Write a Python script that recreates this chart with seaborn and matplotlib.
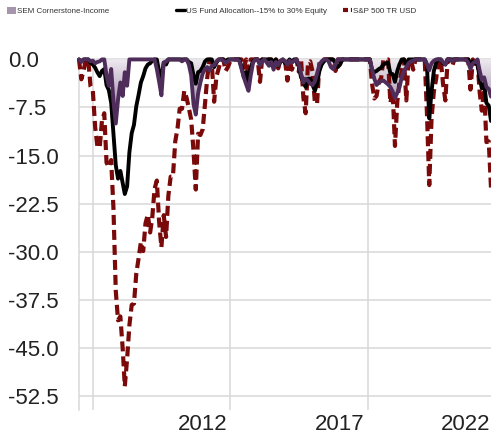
import numpy as np
import pandas as pd
import matplotlib
matplotlib.use("Agg")
import matplotlib.pyplot as plt
from matplotlib.colors import LinearSegmentedColormap
from matplotlib.patches import PathPatch, Patch
from matplotlib.lines import Line2D
from matplotlib.transforms import ScaledTranslation
import seaborn as sns

# monthly drawdown (%), Jul 2007 .. Jul 2022
dates = pd.date_range("2007-07-01", "2022-07-01", freq="MS")

sem = (
    [0, -0.4, 0, 0, 0, -0.3]                                                   # 2007
    + [-0.2, -0.6, -0.4, -0.3, 0, 0, -2.5, -4.1, -1.5, -6.5, -10.0, -6.3]      # 2008
    + [-3.6, -5.7, -2.0, -4.1, 0, 0, 0, 0, 0, 0, 0, 0]                         # 2009
    + [0, 0, 0, 0, -1.5, -3.5, -5.6, -0.5, -0.3, 0, 0, 0]                      # 2010
    + [0, 0, 0, -0.3, 0, 0, -0.8, -2.5, -7.0, -8.6, -5.3, -3.6]                # 2011
    + [-2.2, -1.5, -1.2, -1.7, -1.0, -0.9, -0.3, 0, 0, -0.2, -0.5, -0.3]       # 2012
    + [0, 0, 0, 0, -0.2, -1.5, -2.8, -3.9, -4.9, -2.5, -0.5, 0]                # 2013
    + [0, -0.9, -0.3, 0, -0.5, -1.0, -0.4, -1.6, -0.4, -0.9, -0.2, 0]          # 2014
    + [-0.3, -0.8, -0.2, -0.5, -0.2, 0, -0.8, -2.2, -3.6, -3.0, -3.3, -3.8]    # 2015
    + [-4.0, -3.4, -2.2, -0.8, -0.3, 0, 0, -0.3, -1.2, -1.5, -0.8, 0]          # 2016
    + [0, 0, 0, 0, 0, 0, 0, 0, 0, 0, 0, 0]                                     # 2017
    + [0, 0, -1.5, -3.0, -4.0, -3.6, -3.4, -3.3, -3.6, -3.9, -4.3, -5.0]       # 2018
    + [-6.0, -5.2, -4.4, -2.8, -1.8, -1.2, -0.6, -0.3, -0.2, 0, 0, 0]          # 2019
    + [0, 0, -0.8, -1.7, -0.6, -0.2, 0, 0, 0, -0.4, -0.8, 0]                   # 2020
    + [0, -0.3, 0, 0, 0, 0, 0, 0, -0.5, -1.5, -0.6, -0.4]                      # 2021
    + [0, -1.8, -3.2, -2.8, -4.3, -4.6, -5.8]                                  # 2022
)

us_fund = (
    [0, -0.3, 0, 0, 0, -0.5]
    + [-0.8, -1.3, -2.0, -2.6, -1.8, -1.5, -4.0, -4.8, -6.8, -11.5, -16.5, -18.6]
    + [-17.4, -19.3, -21.0, -19.8, -14.5, -11.5, -10.2, -7.3, -5.5, -3.6, -2.6, -1.4]
    + [-0.8, -0.6, -0.2, 0, 0, -2.0, -2.8, -0.5, -0.8, 0, 0, 0]
    + [0, 0, 0, 0, 0, 0, -0.4, -0.6, -2.5, -3.8, -2.0, -1.8]
    + [-1.2, -0.3, 0, 0, 0, -1.2, -0.5, 0, 0, 0, -0.3, 0]
    + [0, 0, 0, 0, 0, -1.2, -2.8, -2.0, -3.5, -1.2, -0.3, 0]
    + [0, -0.8, 0, 0, 0, 0, 0, -0.4, 0, -1.0, -0.3, 0]
    + [-0.6, -0.5, 0, -0.4, 0, 0, -1.0, -2.8, -3.5, -4.3, -3.0, -3.0]
    + [-4.0, -4.9, -3.8, -1.8, -0.8, -0.3, 0, 0, 0, 0, -0.6, -1.2]
    + [-0.8, 0, 0, 0, 0, 0, 0, 0, 0, 0, 0, 0]
    + [0, 0, -1.6, -2.0, -1.8, -1.5, -1.3, -0.8, -0.6, -0.5, -2.2, -2.3]
    + [-3.5, -1.8, -0.8, 0, 0, -0.8, 0, 0, 0, 0, 0, 0]
    + [0, 0, -0.8, -9.2, -5.0, -1.8, -0.5, 0, 0, -0.6, -0.8, 0]
    + [0, 0, 0, 0, 0, 0, 0, 0, 0, -1.0, -0.3, -0.6]
    + [-0.5, -3.0, -4.5, -3.8, -6.8, -7.2, -9.6]
)

sp500 = (
    [0, -3.1, -1.7, 0, 0, -4.2]
    + [-4.9, -10.6, -13.5, -13.8, -9.6, -8.4, -16.1, -16.8, -15.7, -23.2, -36.1, -40.7]
    + [-40.1, -45.1, -51.0, -46.7, -41.5, -38.3, -38.1, -33.4, -31.0, -28.5, -29.9, -25.6]
    + [-24.2, -27.0, -24.7, -20.2, -18.9, -25.4, -29.3, -24.3, -27.7, -21.3, -18.3, -18.3]
    + [-12.8, -10.7, -7.7, -7.7, -4.9, -6.0, -7.6, -9.4, -14.3, -20.3, -11.6, -11.8]
    + [-10.9, -6.9, -2.9, 0, -0.6, -6.6, -2.7, -1.4, 0, 0, -1.8, -1.2]
    + [-0.3, 0, 0, 0, 0, 0, -1.3, 0, -2.9, 0, 0, 0]
    + [0, -3.5, 0, 0, 0, 0, 0, -1.4, 0, -1.4, 0, 0]
    + [-0.3, -3.3, 0, -1.6, -0.6, 0, -1.9, 0, -6.0, -8.4, -0.6, -0.3]
    + [-1.9, -6.8, -6.9, -0.6, -0.2, 0, 0, 0, 0, 0, -1.8, 0]
    + [0, 0, 0, 0, 0, 0, 0, 0, 0, 0, 0, 0]
    + [0, 0, -3.7, -6.1, -5.7, -3.5, -2.9, 0, 0, 0, -6.8, -4.9]
    + [-13.5, -6.6, -3.6, -1.8, 0, -6.4, 0, 0, -1.6, 0, 0, 0]
    + [0, -0.1, -8.3, -19.6, -9.3, -5.0, -3.1, 0, 0, -3.8, -6.4, 0]
    + [0, -1.0, 0, 0, 0, 0, 0, 0, 0, -4.7, 0, -0.7]
    + [0, -5.2, -8.0, -4.6, -12.9, -12.8, -20.0]
)

series_names = ["SEM Cornerstone-Income", "US Fund Allocation--15% to 30% Equity", "S&P 500 TR USD"]
label_years = ["2012", "2017", "2022"]
grid_years = ["2008", "2013", "2018"]
y_ticks = [0.0, -7.5, -15.0, -22.5, -30.0, -37.5, -45.0, -52.5]

df = pd.DataFrame({"date": dates, "sem": sem, "fund": us_fund, "sp": sp500})

sns.set_theme(style="white")
plt.rcParams["font.family"] = ["Liberation Sans", "DejaVu Sans"]

fig = plt.figure(figsize=(4.91, 4.38), dpi=100)
ax = fig.add_axes([79 / 491, 28 / 438, 412 / 491, 352.5 / 438])

purple = "#4F2D5B"
red = "#7A0A0A"

sns.lineplot(data=df, x="date", y="sp", ax=ax, color=red, lw=3.0,
             linestyle=(0, (2.4, 1.2)), estimator=None, zorder=3, clip_on=False)
sns.lineplot(data=df, x="date", y="fund", ax=ax, color="black", lw=2.8,
             estimator=None, zorder=4, clip_on=False)
sns.lineplot(data=df, x="date", y="sem", ax=ax, color=purple, lw=2.8,
             estimator=None, zorder=5, clip_on=False)

# gradient fill under SEM
poly = ax.fill_between(df["date"], df["sem"], 0, facecolor="none", edgecolor="none")
xlo, xhi = ax.get_xlim()
cmap = LinearSegmentedColormap.from_list("sem", ["#EFEAF1", "#B7A8BD", "#5B3E66"])
img = ax.imshow(np.linspace(0, 1, 256).reshape(-1, 1), cmap=cmap, aspect="auto",
                extent=[xlo, xhi, -11, 0], origin="upper", zorder=2)
clip = PathPatch(poly.get_paths()[0], transform=ax.transData, facecolor="none", edgecolor="none")
ax.add_patch(clip)
img.set_clip_path(clip)

ax.set_xlim(dates[0], dates[-1])
ax.set_ylim(-54.7, 0.3)
ax.set_yticks(y_ticks)
ax.set_yticklabels([f"{v:.1f}" for v in y_ticks])
ax.set_xticks(pd.to_datetime([y + "-01-01" for y in label_years]))
ax.set_xticklabels(label_years)
ax.set_xticks(pd.to_datetime([y + "-01-01" for y in grid_years]), minor=True)
ax.set_xlabel("")
ax.set_ylabel("")

ax.set_axisbelow(True)
ax.grid(axis="y", which="major", color="#D9D9D9", lw=1.1)
ax.grid(axis="x", which="minor", color="#D9D9D9", lw=1.1)
ax.grid(axis="x", which="major", visible=False)
ax.tick_params(axis="both", which="both", length=0, labelsize=16, labelcolor="#222222")
ax.tick_params(axis="y", pad=51)
ax.tick_params(axis="x", pad=3)
for t in ax.get_yticklabels():
    t.set_ha("left")

# last year label is pushed inside the right edge, like the original
last = ax.get_xticklabels()[-1]
last.set_ha("right")
last.set_transform(last.get_transform() + ScaledTranslation(0.13, 0, fig.dpi_scale_trans))

for s in ["top", "right", "bottom"]:
    ax.spines[s].set_visible(False)
ax.spines["left"].set_color("#D9D9D9")
ax.spines["left"].set_linewidth(1.1)

# legend, one entry per column
handles = [
    Patch(facecolor="#A696AD", edgecolor="none"),
    Line2D([], [], color="black", lw=2.4),
    Line2D([], [], color=red, lw=3, linestyle=(0, (1.2, 0.7))),
]
for h, name, xpos in zip(handles, series_names, [7, 176, 343]):
    fig.legend(handles=[h], labels=[name], loc="upper left",
               bbox_to_anchor=(xpos / 491, 1 - 7 / 438), frameon=False,
               fontsize=5.8, labelcolor="#333333", handlelength=1.1, handleheight=0.9,
               handletextpad=0.15, borderpad=0, borderaxespad=0)

fig.savefig("out.png", dpi=100)
